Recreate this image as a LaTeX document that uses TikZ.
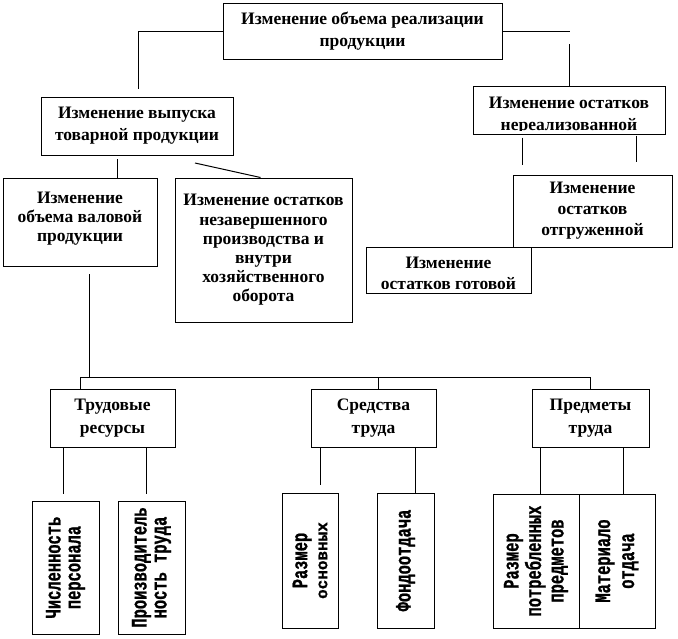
\documentclass[tikz,border=0pt]{standalone}
\usepackage{fontspec}
\setmainfont{Liberation Serif}
\newfontfamily\monofnt[FakeStretch=0.7,BoldFeatures={FakeBold=1}]{Liberation Mono}
\newfontfamily\monowide[BoldFeatures={FakeBold=1}]{Liberation Mono}
\usetikzlibrary{positioning}

\begin{document}
\begin{tikzpicture}[x=1pt,y=-1pt,
		box/.style={draw,line width=1pt,inner sep=0pt,align=center,font=\bfseries\fontsize{17.5}{21}\selectfont},
		txt/.style={inner sep=0pt,align=center,font=\bfseries\fontsize{17.5}{22}\selectfont},
		vbox/.style={draw,line width=1pt,inner sep=0pt,align=center,rotate=90,font=\monofnt\bfseries\fontsize{22}{20}\selectfont},
		link/.style={line width=1pt}]
	\useasboundingbox (0,0) rectangle (678,638);
	% Top level
	\node[box,minimum width=279pt,minimum height=56pt,font=\bfseries\fontsize{17.5}{22}\selectfont] (realiz) at (362.5,31) {Изменение объема реализации\\ продукции};
	\node[box,minimum width=192pt,minimum height=58pt,font=\bfseries\fontsize{17.5}{22}\selectfont] (vypusk) at (137,126) {Изменение выпуска\\ товарной продукции};
	\node[box,minimum width=192pt,minimum height=48pt] (nereal) at (569,110) {};
	\begin{scope}
		\clip ([yshift=4pt]nereal.south west) rectangle (nereal.north east);
		\node[txt,anchor=north] (nerealtxt) at ([yshift=-11pt]nereal.north) {Изменение остатков\\ нереализованной};
	\end{scope}
	% Second level
	\node[box,minimum width=154pt,minimum height=88pt,text depth=10pt,font=\bfseries\fontsize{17.5}{19}\selectfont] (valov) at (80,222) {Изменение\\ объема валовой\\ продукции};
	\node[box,minimum width=177pt,minimum height=144pt,font=\bfseries\fontsize{17.5}{19.2}\selectfont] (nezav) at (263.5,250) {Изменение остатков\\ незавершенного\\ производства и\\ внутри\\ хозяйственного\\ оборота};
	\node[box,minimum width=159pt,minimum height=72pt] (otgruzh) at (592.5,211) {Изменение\\ остатков\\ отгруженной};
	\node[box,minimum width=165pt,minimum height=46pt] (gotov) at (448.5,270) {};
	\begin{scope}
		\clip ([yshift=5pt]gotov.south west) rectangle (gotov.north east);
		\node[txt,anchor=north,font=\bfseries\fontsize{17.5}{21.5}\selectfont] (gotovtxt) at ([yshift=-10pt]gotov.north) {Изменение\\ остатков готовой};
	\end{scope}
	% Factors
	\node[box,minimum width=125pt,minimum height=58pt,font=\bfseries\fontsize{17.5}{23}\selectfont] (trud) at (112.5,418) {Трудовые\\ ресурсы};
	\node[box,minimum width=125pt,minimum height=58pt,font=\bfseries\fontsize{17.5}{23}\selectfont] (sredst) at (373.5,418) {Средства\\ труда};
	\node[box,minimum width=117pt,minimum height=58pt,font=\bfseries\fontsize{17.5}{23}\selectfont] (predm) at (590.5,418) {Предметы\\ труда};
	% Indicators (vertical text)
	\node[vbox,minimum width=133pt,minimum height=67pt] (chisl) at (65.5,567.5) {Численность\\ персонала};
	\node[vbox,minimum width=133pt,minimum height=67pt] (proizv) at (151.5,567.5) {Производитель\\ ность труда};
	\node[vbox,minimum width=135pt,minimum height=56pt] (razm) at (310,560.5) {Размер\\ {\monowide\fontsize{16}{16}\selectfont основных}};
	\node[vbox,minimum width=135pt,minimum height=57pt] (fond) at (405.5,560.5) {Фондоотдача};
	\node[vbox,minimum width=134pt,minimum height=86pt,font=\monofnt\bfseries\fontsize{22}{22.5}\selectfont] (potreb) at (536,561) {Размер\\ потребленных\\ предметов};
	\node[vbox,minimum width=134pt,minimum height=76pt,font=\monofnt\bfseries\fontsize{22}{24}\selectfont] (mater) at (617,561) {Материало\\ отдача};
	% Connectors
	\coordinate (toL) at (138,89);
	\draw[link] (realiz.west) -| (toL);
	\coordinate (toR) at (570,31);
	\draw[link] (realiz.east) -- (toR);
	\coordinate (toR2) at (569,44);
	\draw[link] (toR2) -- (nereal.north);
	\coordinate (vy1) at (117,159);
	\draw[link] (vy1) -- (vy1 |- valov.north);
	\coordinate (vy2) at (195,163);
	\draw[link] (vy2) -- ([xshift=-3pt]nezav.north);
	\coordinate (ne1) at (522,165);
	\draw[link] ([yshift=-3pt]ne1 |- nereal.south) -- (ne1);
	\coordinate (ne2) at (636,162);
	\draw[link] ([yshift=-1pt]ne2 |- nereal.south) -- (ne2);
	\coordinate (va1) at (89,274);
	\coordinate (busL) at (80,377);
	\coordinate (busR) at (590,377);
	\draw[link] (va1) -- (va1 |- busL);
	\draw[link] (busL) -- (busR);
	\draw[link] (busL) -- (busL |- trud.north);
	\draw[link] ([xshift=5pt]sredst.north) -- ([xshift=5pt]sredst.north |- busL);
	\draw[link] (busR) -- (busR |- predm.north);
	\coordinate (tr1) at (63,494);
	\coordinate (tr2) at (146,494);
	\draw[link] (tr1 |- trud.south) -- (tr1);
	\draw[link] (tr2 |- trud.south) -- (tr2);
	\coordinate (sr1) at (320,485);
	\draw[link] (sr1 |- sredst.south) -- (sr1);
	\draw[link] ([xshift=41.5pt]sredst.south) -- ([xshift=41.5pt]sredst.south |- fond.east);
	\draw[link] ([xshift=-50.5pt]predm.south) -- ([xshift=-50.5pt]predm.south |- potreb.east);
	\draw[link] ([xshift=32.5pt]predm.south) -- ([xshift=32.5pt]predm.south |- mater.east);
\end{tikzpicture}
\end{document}
